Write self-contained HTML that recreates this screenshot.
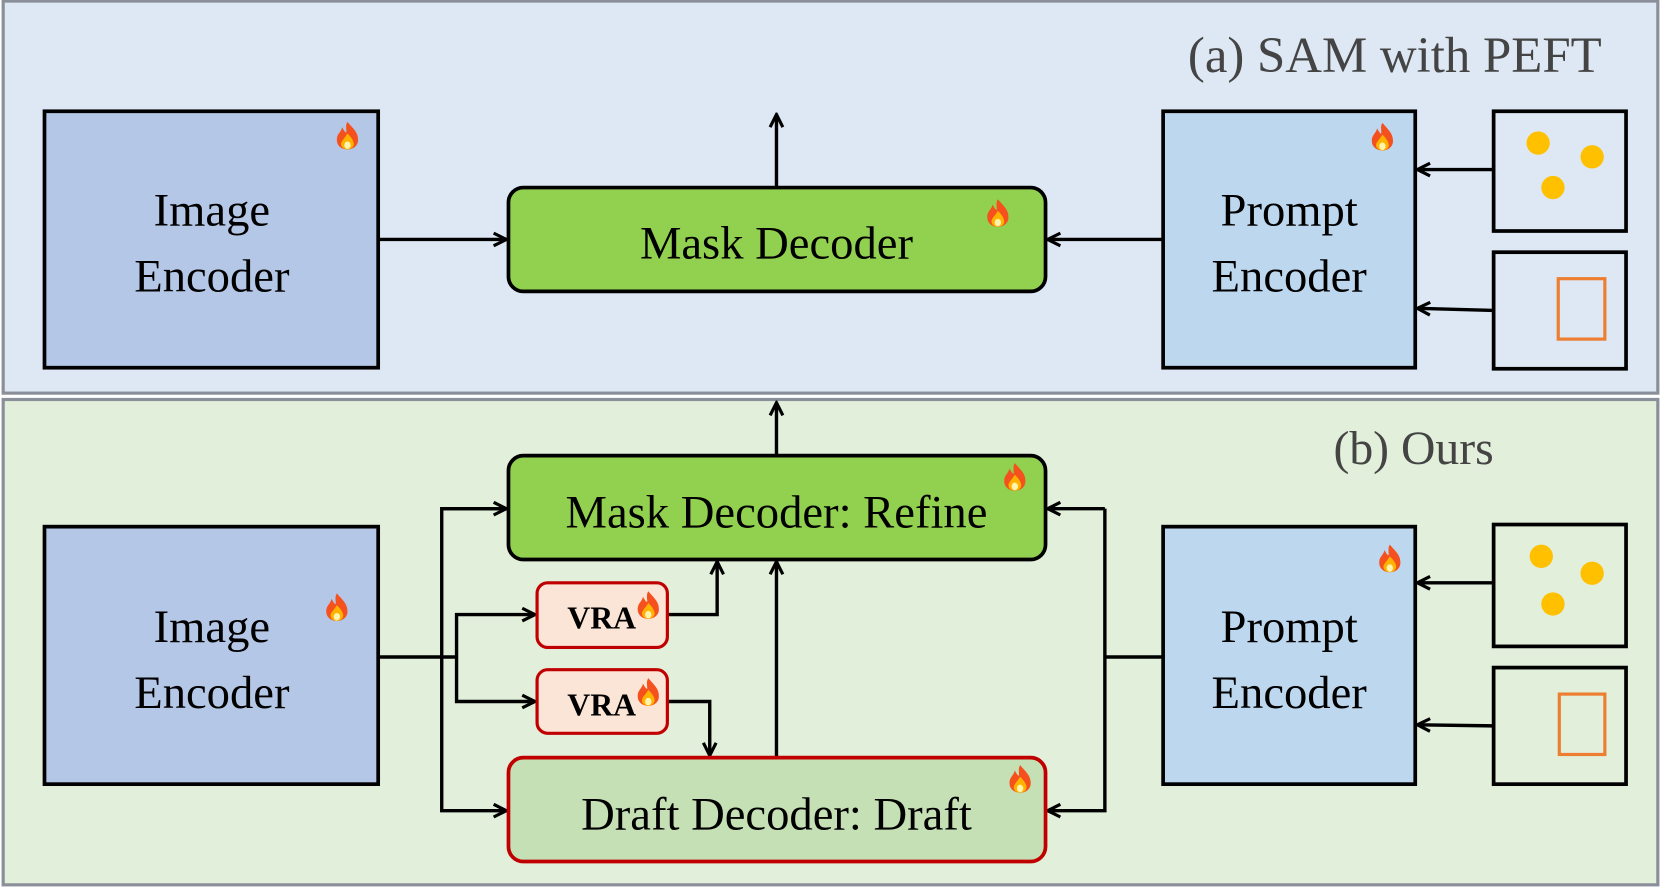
<!DOCTYPE html>
<html><head><meta charset="utf-8"><style>
html,body{margin:0;padding:0;background:#fff;width:1661px;height:888px;overflow:hidden}
svg{display:block}
svg text{font-family:'Liberation Serif','Times New Roman',serif !important;fill:#000}
</style></head><body>
<svg width="1661" height="888" viewBox="0 0 1568 838" preserveAspectRatio="none" xmlns="http://www.w3.org/2000/svg" font-family="'Liberation Serif', serif">
<defs>
<marker id="a" viewBox="0 0 16 16" refX="14" refY="8" markerWidth="16" markerHeight="16" markerUnits="userSpaceOnUse" orient="auto">
<path d="M2,2 L14,8 L2,14" fill="none" stroke="#000" stroke-width="3"/>
</marker>
<g id="f">
<path d="M0,-13 C6,-6 10,-3 10,4 C10,10 5,13 0,13 C-5,13 -10,10 -10,4 C-10,-2 -6,-3 -5,-8 C-3,-4 -2,-3 -1,-3 C-1,-7 -2,-10 0,-13Z" fill="#f4511e"/>
<path d="M0,-2 C4,2 6,5 6,8 C6,11 3,13 0,13 C-3,13 -6,11 -6,8 C-6,5 -3,3 0,-2Z" fill="#ffb300"/>
<ellipse cx="0" cy="9" rx="3" ry="3.5" fill="#fff3b0"/>
</g>
</defs>
<rect x="3" y="1" width="1562" height="370" fill="#dde8f4" stroke="#8a8f99" stroke-width="3"/>
<rect x="3" y="377" width="1562" height="458" fill="#e2efda" stroke="#8a8f99" stroke-width="3"/>
<text x="1512" y="68" font-size="48" text-anchor="end" style="fill:#444">(a) SAM with PEFT</text>
<text x="1410" y="438" font-size="45" text-anchor="end" style="fill:#444">(b) Ours</text>

<g stroke="#000" stroke-width="3.2" fill="none">
<line x1="357" y1="226" x2="478" y2="226" marker-end="url(#a)"/>
<line x1="733" y1="177" x2="733" y2="108" marker-end="url(#a)"/>
<line x1="1098" y1="226" x2="989" y2="226" marker-end="url(#a)"/>
<line x1="1410" y1="160" x2="1338" y2="160" marker-end="url(#a)"/>
<line x1="1410" y1="293" x2="1338" y2="291" marker-end="url(#a)"/>
<line x1="733" y1="430" x2="733" y2="380" marker-end="url(#a)"/>
<polyline points="357,620 431,620"/>
<polyline points="478,480 417,480 417,765 478,765" marker-end="url(#a)"/>
<line x1="417" y1="480" x2="478" y2="480" marker-end="url(#a)"/>
<polyline points="431,620 431,580 505,580" marker-end="url(#a)"/>
<polyline points="431,620 431,662 505,662" marker-end="url(#a)"/>
<polyline points="630,580 677,580 677,530" marker-end="url(#a)"/>
<polyline points="630,662 670,662 670,713" marker-end="url(#a)"/>
<line x1="733" y1="715" x2="733" y2="530" marker-end="url(#a)"/>
<polyline points="1098,620 1043,620"/>
<polyline points="1043,480 1043,765 989,765" marker-end="url(#a)"/>
<line x1="1043" y1="480" x2="989" y2="480" marker-end="url(#a)"/>
<line x1="1410" y1="550" x2="1338" y2="550" marker-end="url(#a)"/>
<line x1="1410" y1="685" x2="1338" y2="684" marker-end="url(#a)"/>
</g>

<rect x="42" y="105" width="315" height="242" fill="#b4c7e7" stroke="#000" stroke-width="3.5"/>
<text x="200" y="213" font-size="44" text-anchor="middle">Image</text>
<text x="200" y="275" font-size="44" text-anchor="middle">Encoder</text>
<use href="#f" x="328" y="128"/>
<rect x="480" y="177" width="507" height="98" rx="14" fill="#92d050" stroke="#000" stroke-width="3.5"/>
<text x="733" y="244" font-size="44" text-anchor="middle">Mask Decoder</text>
<use href="#f" x="942" y="201"/>
<rect x="1098" y="105" width="238" height="242" fill="#bdd7ee" stroke="#000" stroke-width="3.5"/>
<text x="1217" y="213" font-size="44" text-anchor="middle">Prompt</text>
<text x="1217" y="275" font-size="44" text-anchor="middle">Encoder</text>
<use href="#f" x="1305" y="129"/>
<rect x="1410" y="105" width="125" height="113" fill="#dde8f4" stroke="#000" stroke-width="3.5"/>
<circle cx="1452" cy="135" r="11" fill="#ffc000"/><circle cx="1503" cy="148" r="11" fill="#ffc000"/><circle cx="1466" cy="177" r="11" fill="#ffc000"/>
<rect x="1410" y="238" width="125" height="110" fill="#dde8f4" stroke="#000" stroke-width="3.5"/>
<rect x="1471" y="263" width="44" height="57" fill="none" stroke="#ed7d31" stroke-width="3"/>

<rect x="42" y="497" width="315" height="243" fill="#b4c7e7" stroke="#000" stroke-width="3.5"/>
<text x="200" y="606" font-size="44" text-anchor="middle">Image</text>
<text x="200" y="668" font-size="44" text-anchor="middle">Encoder</text>
<use href="#f" x="318" y="573"/>
<rect x="480" y="430" width="507" height="98" rx="14" fill="#92d050" stroke="#000" stroke-width="3.5"/>
<text x="733" y="498" font-size="44" text-anchor="middle">Mask Decoder: Refine</text>
<use href="#f" x="958" y="450"/>
<rect x="507" y="550" width="123" height="61" rx="10" fill="#fbe5d6" stroke="#c00000" stroke-width="3"/>
<text x="568" y="593" font-size="30" font-weight="bold" text-anchor="middle">VRA</text>
<use href="#f" x="612" y="571"/>
<rect x="507" y="632" width="123" height="60" rx="10" fill="#fbe5d6" stroke="#c00000" stroke-width="3"/>
<text x="568" y="675" font-size="30" font-weight="bold" text-anchor="middle">VRA</text>
<use href="#f" x="612" y="653"/>
<rect x="480" y="715" width="507" height="98" rx="14" fill="#c5e0b4" stroke="#c00000" stroke-width="3.5"/>
<text x="733" y="783" font-size="44" text-anchor="middle">Draft Decoder: Draft</text>
<use href="#f" x="963" y="735"/>
<rect x="1098" y="497" width="238" height="243" fill="#bdd7ee" stroke="#000" stroke-width="3.5"/>
<text x="1217" y="606" font-size="44" text-anchor="middle">Prompt</text>
<text x="1217" y="668" font-size="44" text-anchor="middle">Encoder</text>
<use href="#f" x="1312" y="527"/>
<rect x="1410" y="495" width="125" height="115" fill="#e2efda" stroke="#000" stroke-width="3.5"/>
<circle cx="1455" cy="525" r="11" fill="#ffc000"/><circle cx="1503" cy="541" r="11" fill="#ffc000"/><circle cx="1466" cy="570" r="11" fill="#ffc000"/>
<rect x="1410" y="630" width="125" height="110" fill="#e2efda" stroke="#000" stroke-width="3.5"/>
<rect x="1472" y="655" width="43" height="57" fill="none" stroke="#ed7d31" stroke-width="3"/>
</svg>
</body></html>
